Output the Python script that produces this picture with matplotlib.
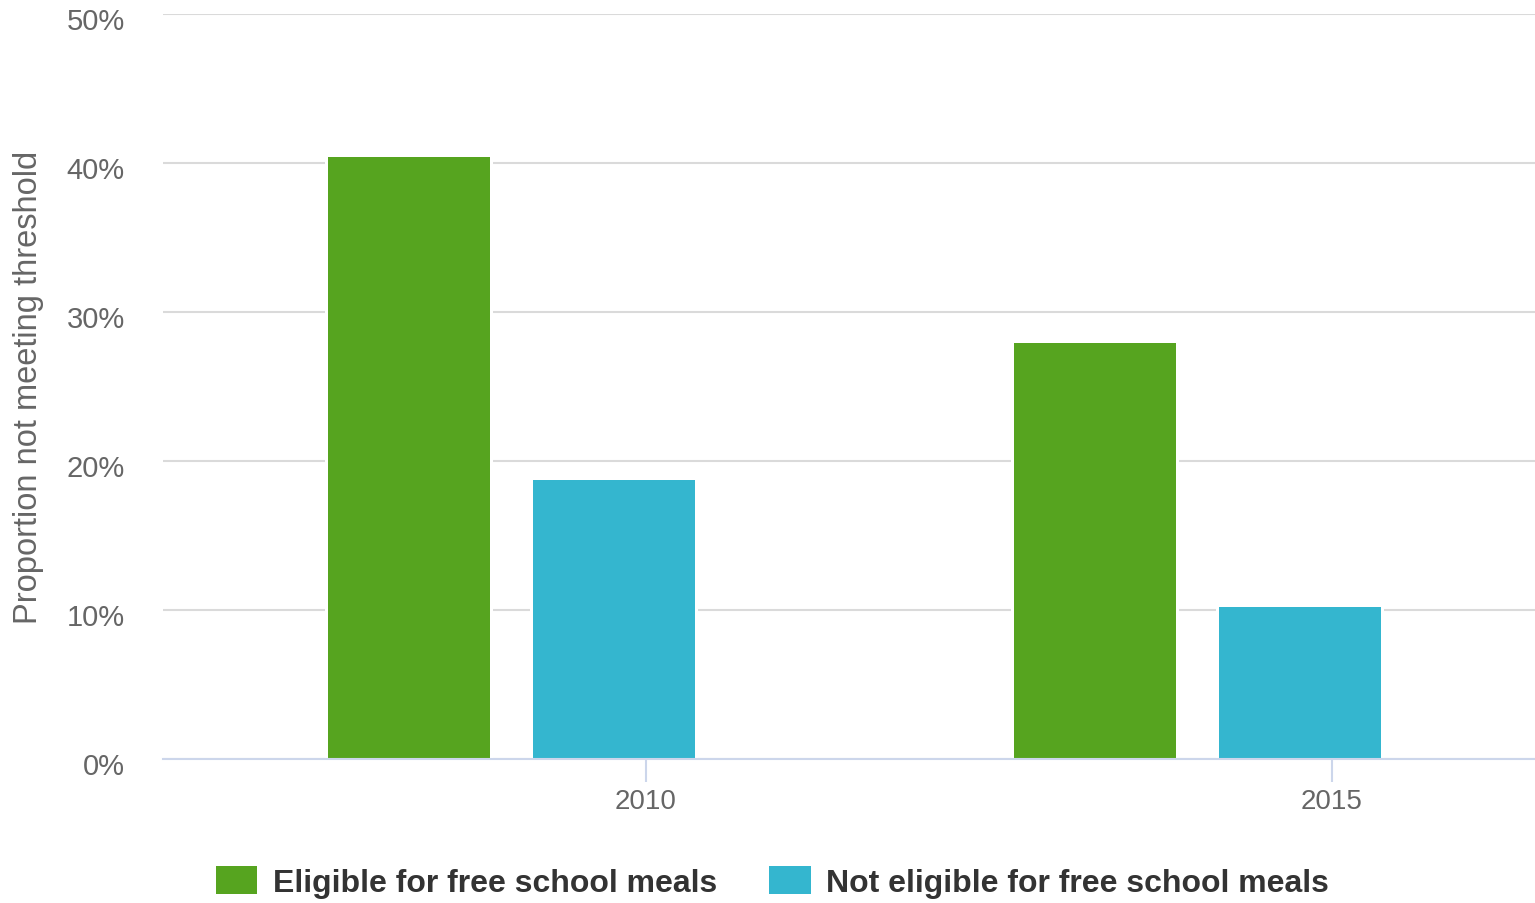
import numpy as np
import matplotlib.pyplot as plt
from matplotlib.ticker import FuncFormatter
from matplotlib.transforms import ScaledTranslation

plt.rcParams['font.family'] = ['Liberation Sans', 'DejaVu Sans']

years = ['2010', '2015']
eligible = [40.4, 27.9]
not_eligible = [18.7, 10.2]
series_names = ['Eligible for free school meals', 'Not eligible for free school meals']
colors = ['#56a41f', '#34b6cf']

fig = plt.figure(figsize=(15.35, 9.04), dpi=100)
ax = fig.add_axes([0.1062, 0.1598, 0.8938, 0.8241])

x = np.arange(len(years))
w = 0.236
offsets = [-0.142, 0.157]
for vals, off, col, name in zip([eligible, not_eligible], offsets, colors, series_names):
    # white halo behind each bar breaks the grid lines around it
    ax.bar(x + off, [v + 0.2 for v in vals], w + 0.009, color='white', zorder=0.8)
    ax.bar(x + off, vals, w, color=col, label=name, zorder=1)

ax.set_xlim(-0.5, 1.5)
ax.set_ylim(0, 50)
ax.set_yticks(np.arange(0, 51, 10))
ax.yaxis.set_major_formatter(FuncFormatter(lambda v, p: f'{v:.0f}%'))
ax.set_axisbelow(True)
ax.grid(axis='y', color='#dadada', linewidth=1.5)

# category labels sit a little right of the bar groups
ax.set_xticks(x + 0.204)
ax.set_xticklabels(years)
ax.tick_params(axis='x', length=16.5, width=1.5, color='#ccd6eb', pad=5,
               labelsize=20, labelcolor='#666666')
ax.tick_params(axis='y', length=0, pad=27.5, labelsize=21, labelcolor='#666666')
for lab in ax.get_yticklabels():
    lab.set_transform(lab.get_transform() + ScaledTranslation(0, -3 / 72, fig.dpi_scale_trans))

for s in ['top', 'right', 'left']:
    ax.spines[s].set_visible(False)
ax.spines['bottom'].set_color('#ccd6eb')
ax.spines['bottom'].set_linewidth(1.5)
ax.spines['bottom'].set_zorder(2.5)

ax.set_ylabel('Proportion not meeting threshold', fontsize=23.5, color='#666666')
ax.yaxis.set_label_coords(-0.0865, 0.5)

fig.legend(loc='center', bbox_to_anchor=(0.503, 0.023), ncol=2, frameon=False,
           prop={'weight': 'bold', 'size': 23}, labelcolor='#333333',
           handlelength=1.31, handleheight=0.97, handletextpad=0.47, columnspacing=1.63)

fig.savefig('out.png', dpi=100)
